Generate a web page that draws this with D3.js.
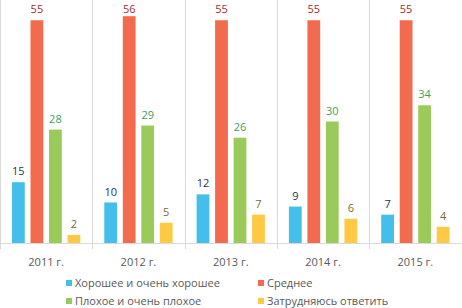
<!DOCTYPE html>
<html>
<head>
<meta charset="utf-8">
<script src="https://cdn.jsdelivr.net/npm/d3@7"></script>
<style>
  body { margin: 0; background: #fff; }
  svg { font-family: "Open Sans", "DejaVu Sans", sans-serif; }
</style>
</head>
<body>
<div id="chart"></div>
<script>
const years = ["2011 г.", "2012 г.", "2013 г.", "2014 г.", "2015 г."];
const seriesNames = ["Хорошее и очень хорошее", "Среднее", "Плохое и очень плохое", "Затрудняюсь ответить"];
const good = [15, 10, 12, 9, 7];
const average = [55, 56, 55, 55, 55];
const bad = [28, 29, 26, 30, 34];
const unsure = [2, 5, 7, 6, 4];

const barColors = ["#44BEEA", "#F26B4E", "#9ACB5A", "#FFC945"];
const labelColors = ["#1F3550", "#A32A33", "#3E9E5A", "#7A6A2E"];

const series = [good, average, bad, unsure];

const width = 462, height = 308;
const margin = {top: 0, right: 0, bottom: 65, left: 0};
const innerH = height - margin.top - margin.bottom;

const svg = d3.select("#chart").append("svg")
    .attr("width", width)
    .attr("height", height);

const g = svg.append("g")
    .attr("transform", `translate(${margin.left},${margin.top})`);

const x0 = d3.scaleBand()
    .domain(years)
    .range([0, width - 0.5])
    .padding(0);

const x1 = d3.scaleBand()
    .domain(d3.range(4))
    .range([12, x0.bandwidth() - 12])
    .paddingInner(0.31);

const y = d3.scaleLinear()
    .domain([0, 60])
    .range([innerH, 0]);

// separators between categories
g.selectAll(".sep")
    .data(d3.range(years.length + 1))
    .enter().append("line")
    .attr("class", "sep")
    .attr("x1", i => Math.round(i * x0.step()) + 0.5)
    .attr("x2", i => Math.round(i * x0.step()) + 0.5)
    .attr("y1", 0)
    .attr("y2", innerH + 6)
    .attr("stroke", "#d9d9d9");

g.append("line")
    .attr("x1", 0).attr("x2", width)
    .attr("y1", innerH + 0.5).attr("y2", innerH + 0.5)
    .attr("stroke", "#d9d9d9");

const groups = g.selectAll(".yr")
    .data(years)
    .enter().append("g")
    .attr("class", "yr")
    .attr("transform", d => `translate(${x0(d)},0)`);

groups.each(function(yr, i) {
    const grp = d3.select(this);
    series.forEach((s, k) => {
        grp.append("rect")
            .attr("x", x1(k))
            .attr("y", y(s[i]))
            .attr("width", x1.bandwidth())
            .attr("height", innerH - y(s[i]))
            .attr("fill", barColors[k]);
        grp.append("text")
            .attr("x", x1(k) + x1.bandwidth() / 2)
            .attr("y", Math.max(y(s[i]) - 7, 13))
            .attr("text-anchor", "middle")
            .attr("font-size", 11)
            .attr("fill", labelColors[k])
            .text(s[i]);
    });
});

// category labels
g.selectAll(".xl")
    .data(years)
    .enter().append("text")
    .attr("class", "xl")
    .attr("x", d => x0(d) + x0.bandwidth() / 2)
    .attr("y", innerH + 23)
    .attr("text-anchor", "middle")
    .attr("font-size", 11)
    .attr("fill", "#595959")
    .text(d => d);

// legend
const legendPos = [[66, 283], [258, 283], [66, 301], [258, 301]];
const legend = svg.selectAll(".lg")
    .data(seriesNames)
    .enter().append("g")
    .attr("class", "lg")
    .attr("transform", (d, i) => `translate(${legendPos[i][0]},${legendPos[i][1]})`);

legend.append("rect")
    .attr("x", 0).attr("y", -3)
    .attr("width", 6).attr("height", 6)
    .attr("fill", (d, i) => barColors[i]);

legend.append("text")
    .attr("x", 9)
    .attr("y", 0)
    .attr("dy", "0.35em")
    .attr("font-size", 11)
    .attr("fill", "#595959")
    .text(d => d);
</script>
</body>
</html>
